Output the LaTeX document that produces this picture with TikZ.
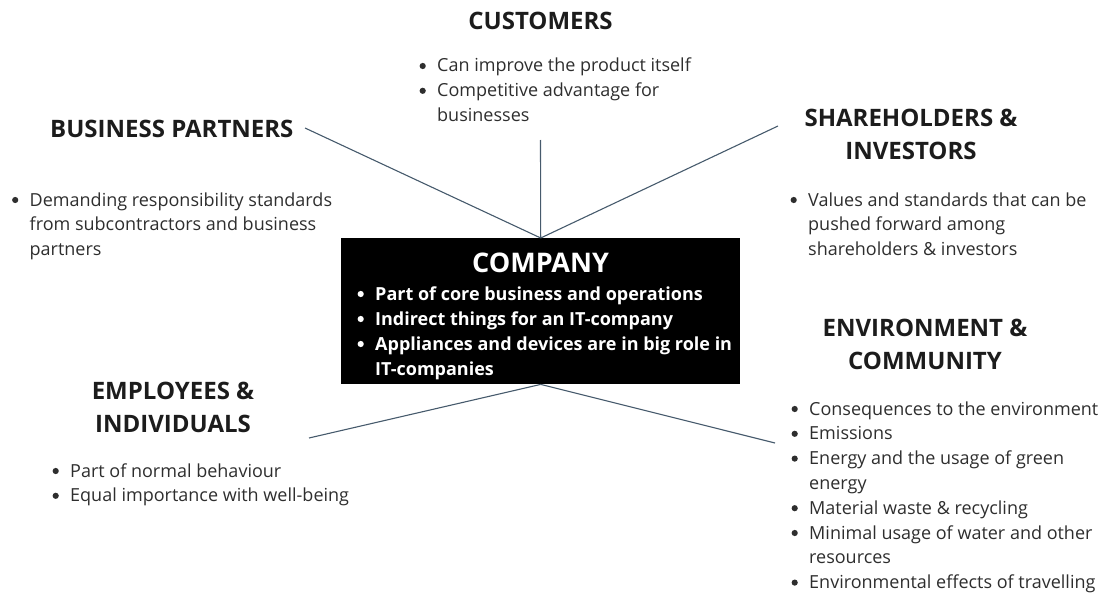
\documentclass[tikz,border=0pt]{standalone}
\usepackage{fontspec}
\setmainfont{Open Sans}
\definecolor{ink}{HTML}{1C1C1C}
\definecolor{body}{HTML}{2E2E2E}
\definecolor{link}{HTML}{465A6C}
% round bullet drawn as a small disc, centred 6pt above the baseline
\newcommand{\bdot}{\tikz[baseline=-6pt]{\fill (0,0) circle (3.1pt);}}
% bullet lists: one tabular row per printed line, baseline on the first row
\newcommand{\bitem}[1]{\makebox[18pt][l]{\hspace{0.4pt}\bdot}#1}
\newcommand{\bcont}[1]{\hspace*{18pt}#1}
\newcommand{\blist}[1]{\begin{tabular}[t]{@{}l@{}}#1\end{tabular}}
\newcommand{\hlines}[1]{\begin{tabular}[t]{@{}c@{}}#1\end{tabular}}
\begin{document}
\begin{tikzpicture}[x=1pt,y=-1pt,
  heading/.style={anchor=base, inner sep=0, text=ink,
    font=\bfseries\fontsize{24}{33}\selectfont},
  bodylist/.style={anchor=base west, inner sep=0, text=body,
    font=\fontsize{18}{24.8}\selectfont},
  boxlist/.style={anchor=base west, inner sep=0, text=white,
    font=\bfseries\fontsize{18}{25}\selectfont},
  link/.style={draw=link, line width=1.1pt}]
\useasboundingbox (0,0) rectangle (1104,594);

% central box
\node[fill=black, minimum width=399pt, minimum height=146pt, inner sep=0,
  anchor=north west] (company) at (341,238) {};
\node[anchor=base, inner sep=0, text=white,
  font=\bfseries\fontsize{27}{30}\selectfont] (ctitle) at (540.5,272) {COMPANY};
\node[boxlist] (clist) at (357,300) {\blist{%
  \bitem{Part of core business and operations}\\
  \bitem{Indirect things for an IT-company}\\
  \bitem{Appliances and devices are in big role in}\\
  \bcont{IT-companies}}};

% customers
\node[heading] (cust) at (540.5,30) {CUSTOMERS};
\node[bodylist] (custl) at (419,72) {\blist{%
  \bitem{Can improve the product itself}\\
  \bitem{Competitive advantage for}\\
  \bcont{businesses}}};

% business partners
\node[heading, anchor=base west] (bp) at (50,137) {BUSINESS PARTNERS};
\node[bodylist] (bpl) at (11.5,206) {\blist{%
  \bitem{Demanding responsibility standards}\\
  \bcont{from subcontractors and business}\\
  \bcont{partners}}};

% shareholders
\node[heading] (sh) at (911,126) {\hlines{SHAREHOLDERS \&\\ INVESTORS}};
\node[bodylist] (shl) at (790,206) {\blist{%
  \bitem{Values and standards that can be}\\
  \bcont{pushed forward among}\\
  \bcont{shareholders \& investors}}};

% employees
\node[heading] (emp) at (173,399) {\hlines{EMPLOYEES \&\\ INDIVIDUALS}};
\node[bodylist] (empl) at (52,477) {\blist{%
  \bitem{Part of normal behaviour}\\
  \bitem{Equal importance with well-being}}};

% environment
\node[heading] (env) at (925,336) {\hlines{ENVIRONMENT \&\\ COMMUNITY}};
\node[bodylist] (envl) at (791,415) {\blist{%
  \bitem{Consequences to the environment}\\
  \bitem{Emissions}\\
  \bitem{Energy and the usage of green}\\
  \bcont{energy}\\
  \bitem{Material waste \& recycling}\\
  \bitem{Minimal usage of water and other}\\
  \bcont{resources}\\
  \bitem{Environmental effects of travelling}}};

% connector ends
\coordinate (custEnd) at (540.5,140);
\coordinate (bpEnd) at (305,128);
\coordinate (shEnd) at (778,126);
\coordinate (empEnd) at (309,438);
\coordinate (envEnd) at (775,443);

\draw[link] (custEnd) -- (company.north);
\draw[link] (bpEnd) -- (company.north);
\draw[link] (shEnd) -- (company.north);
\draw[link] (empEnd) -- (company.south);
\draw[link] (envEnd) -- (company.south);
\end{tikzpicture}
\end{document}
